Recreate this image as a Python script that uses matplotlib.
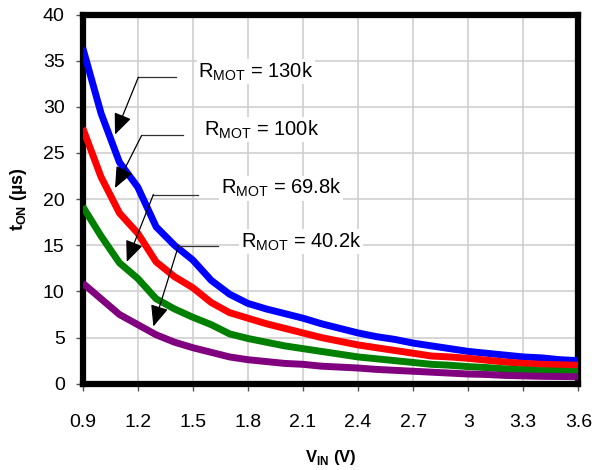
import matplotlib
matplotlib.use('Agg')
import matplotlib.pyplot as plt

plt.rcParams['font.family'] = ['Liberation Sans', 'DejaVu Sans']
plt.rcParams['mathtext.fontset'] = 'custom'
plt.rcParams['mathtext.rm'] = 'Liberation Sans'
plt.rcParams['mathtext.bf'] = 'Liberation Sans:bold'

# input voltage (V)
vin = [0.9, 1.0, 1.1, 1.2, 1.3, 1.4, 1.5, 1.6, 1.7, 1.8, 1.9, 2.0, 2.1, 2.2,
       2.3, 2.4, 2.5, 2.6, 2.7, 2.8, 2.9, 3.0, 3.1, 3.2, 3.3, 3.4, 3.5, 3.6]

# on time (us) for each RMOT
ton_130k = [36.4, 29.3, 24.0, 21.3, 17.0, 15.0, 13.4, 11.2, 9.7, 8.7, 8.1, 7.6, 7.1, 6.5,
            6.0, 5.5, 5.1, 4.8, 4.4, 4.1, 3.8, 3.5, 3.3, 3.1, 2.9, 2.8, 2.6, 2.5]
ton_100k = [27.7, 22.4, 18.5, 16.3, 13.2, 11.6, 10.4, 8.8, 7.7, 7.1, 6.5, 6.0, 5.5, 5.0,
            4.6, 4.2, 3.9, 3.6, 3.3, 3.0, 2.9, 2.75, 2.55, 2.35, 2.2, 2.1, 2.05, 2.0]
ton_69k8 = [19.2, 16.0, 13.1, 11.4, 9.2, 8.1, 7.2, 6.4, 5.4, 4.9, 4.5, 4.1, 3.8, 3.5,
            3.2, 2.9, 2.7, 2.5, 2.3, 2.1, 2.0, 1.85, 1.75, 1.6, 1.5, 1.4, 1.35, 1.3]
ton_40k2 = [10.9, 9.2, 7.5, 6.4, 5.3, 4.5, 3.9, 3.4, 2.9, 2.6, 2.4, 2.2, 2.1, 1.9,
            1.8, 1.7, 1.55, 1.45, 1.35, 1.25, 1.15, 1.05, 1.0, 0.9, 0.85, 0.8, 0.78, 0.75]

labels = ['130k', '100k', '69.8k', '40.2k']
xticks = [0.9, 1.2, 1.5, 1.8, 2.1, 2.4, 2.7, 3.0, 3.3, 3.6]
xticklabels = ['0.9', '1.2', '1.5', '1.8', '2.1', '2.4', '2.7', '3', '3.3', '3.6']
yticks = [0, 5, 10, 15, 20, 25, 30, 35, 40]

fig = plt.figure(figsize=(5.95, 4.70), dpi=100)
ax = fig.add_axes([0.139, 0.1836, 0.833, 0.7854])

ax.plot(vin, ton_130k, color='#0000ff', lw=5, solid_capstyle='butt', zorder=3)
ax.plot(vin, ton_100k, color='#ff0000', lw=5, solid_capstyle='butt', zorder=3)
ax.plot(vin, ton_69k8, color='#008000', lw=5, solid_capstyle='butt', zorder=3)
ax.plot(vin, ton_40k2, color='#800080', lw=5, solid_capstyle='butt', zorder=3)

ax.set_xlim(0.9, 3.6)
ax.set_ylim(0, 40)
ax.set_xticks(xticks)
ax.set_xticklabels(xticklabels)
ax.set_yticks(yticks)
ax.tick_params(axis='x', labelsize=14, length=5, width=1, pad=17, color='#555555')
ax.tick_params(axis='y', labelsize=14, length=5, width=1, pad=8, color='#555555')
ax.grid(True, color='#d0d0d0', lw=1.2)
ax.set_axisbelow(True)
for s in ax.spines.values():
    s.set_linewidth(4.5)
    s.set_color('black')

ax.set_xlabel('V$_{\\mathbf{IN}}$ (V)', fontsize=12, fontweight='bold', labelpad=12)
ax.set_ylabel('t$_{\\mathbf{ON}}$ (\u00b5s)', fontsize=13, fontweight='bold', labelpad=10)

# annotation layout: text pos, line start, corner, arrow tip (data coords)
notes = [
    ((1.528, 33.8), (1.408, 33.2), (1.203, 33.2), (1.076, 27.0)),
    ((1.561, 27.5), (1.448, 26.9), (1.221, 26.9), (1.076, 21.2)),
    ((1.652, 21.2), (1.530, 20.5), (1.285, 20.5), (1.140, 13.2)),
    ((1.761, 15.4), (1.639, 14.9), (1.421, 14.9), (1.285, 6.2)),
]
for lab, (tpos, start, corner, tip) in zip(labels, notes):
    ax.text(tpos[0], tpos[1], 'R$_{\\mathrm{MOT}}$ = ' + lab, fontsize=14.5,
            va='center', ha='left', zorder=5,
            bbox=dict(facecolor='white', edgecolor='none', pad=1))
    ax.plot([start[0], corner[0]], [start[1], corner[1]], color='#333333', lw=0.9, zorder=4)
    ax.annotate('', xy=tip, xytext=corner, zorder=4,
                arrowprops=dict(arrowstyle='-|>,head_length=1.3,head_width=0.55',
                                color='black', lw=0.9, shrinkA=0, shrinkB=0))

fig.savefig('out.png', dpi=100)
